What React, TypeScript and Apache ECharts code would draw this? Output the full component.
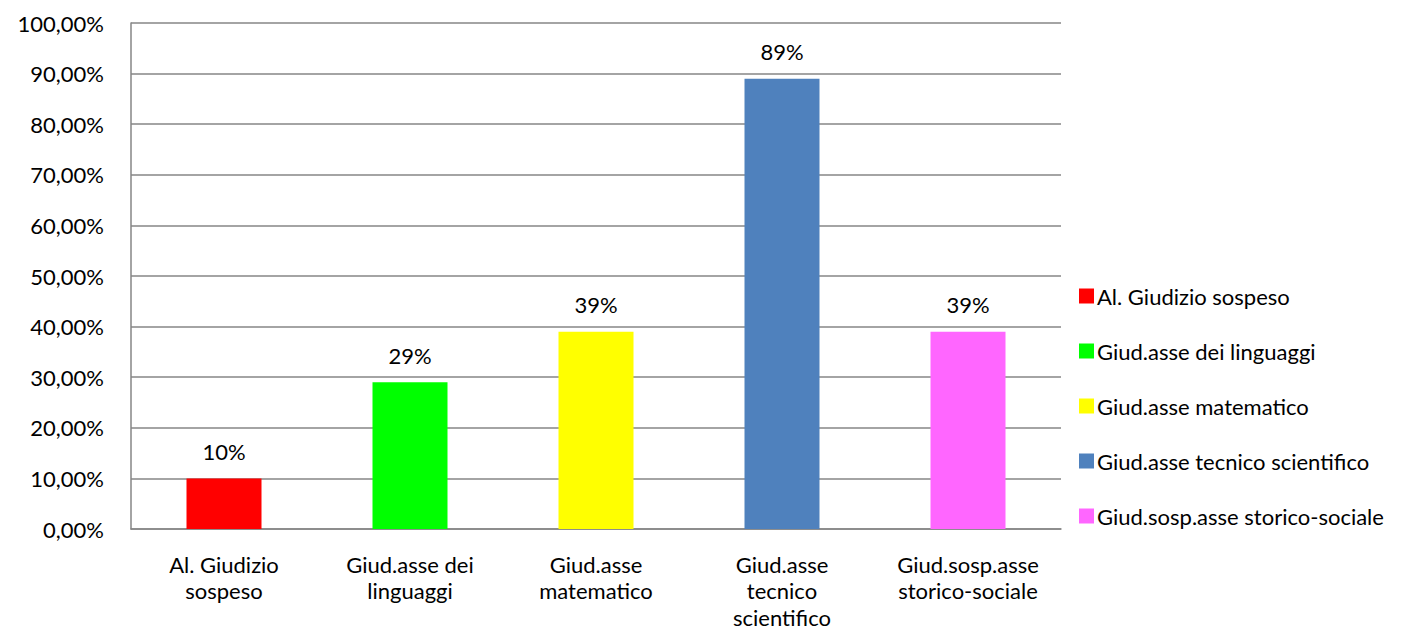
import React, { useEffect, useRef } from "react";
import * as echarts from "echarts";

const categories = [
  "Al. Giudizio sospeso",
  "Giud.asse dei linguaggi",
  "Giud.asse matematico",
  "Giud.asse tecnico scientifico",
  "Giud.sosp.asse storico-sociale",
];
const axisLabels = [
  "Al. Giudizio\nsospeso",
  "Giud.asse dei\nlinguaggi",
  "Giud.asse\nmatematico",
  "Giud.asse\ntecnico\nscientifico",
  "Giud.sosp.asse\nstorico-sociale",
];
const values = [10, 29, 39, 89, 39];
const colors = ["#ff0000", "#00ff00", "#ffff00", "#4f81bd", "#ff66ff"];

const FONT = "Lato, 'Open Sans', sans-serif";
const FS = 22;

export default function App() {
  const ref = useRef<HTMLDivElement>(null);
  useEffect(() => {
    const chart = echarts.init(ref.current!, null, { renderer: "svg" });
    const series = categories.map((name, i) => ({
      name,
      type: "bar",
      stack: "all",
      barWidth: 75,
      itemStyle: { color: colors[i] },
      label: {
        show: true,
        position: "top",
        distance: 16,
        fontFamily: FONT,
        fontSize: FS,
        color: "#000",
        formatter: (p: any) => `${Math.round(p.value)}%`,
      },
      data: categories.map((_, j) => (j === i ? values[i] : "-")),
    }));
    chart.setOption({
      animation: false,
      textStyle: { fontFamily: FONT },
      grid: { left: 131, top: 23, right: 362, bottom: 112, containLabel: false },
      legend: {
        orient: "vertical",
        left: 1074,
        top: 279,
        itemWidth: 15,
        itemHeight: 15,
        itemGap: 31,
        icon: "rect",
        textStyle: { fontFamily: FONT, fontSize: FS, lineHeight: 24, color: "#000", padding: [0, 0, 0, -2] },
        data: categories,
      },
      xAxis: {
        type: "category",
        data: categories,
        axisLine: { lineStyle: { color: "#868686", width: 1.5 } },
        axisTick: { show: false },
        axisLabel: {
          interval: 0,
          margin: 22,
          fontFamily: FONT,
          fontSize: FS,
          lineHeight: 26.5,
          color: "#000",
          formatter: (_: string, i: number) => axisLabels[i],
        },
      },
      yAxis: {
        type: "value",
        min: 0,
        max: 100,
        interval: 10,
        axisLine: { show: true, lineStyle: { color: "#868686", width: 1.5 } },
        axisTick: { show: false },
        splitLine: { lineStyle: { color: "#868686", width: 1.5 } },
        axisLabel: {
          margin: 27,
          fontFamily: FONT,
          fontSize: FS,
          color: "#000",
          formatter: (v: number) => v.toFixed(2).replace(".", ",") + "%",
        },
      },
      series,
    });
    return () => chart.dispose();
  }, []);
  return <div ref={ref} style={{ width: 1423, height: 641, position: "absolute", left: 0, top: 0, background: "#fff" }} />;
}
